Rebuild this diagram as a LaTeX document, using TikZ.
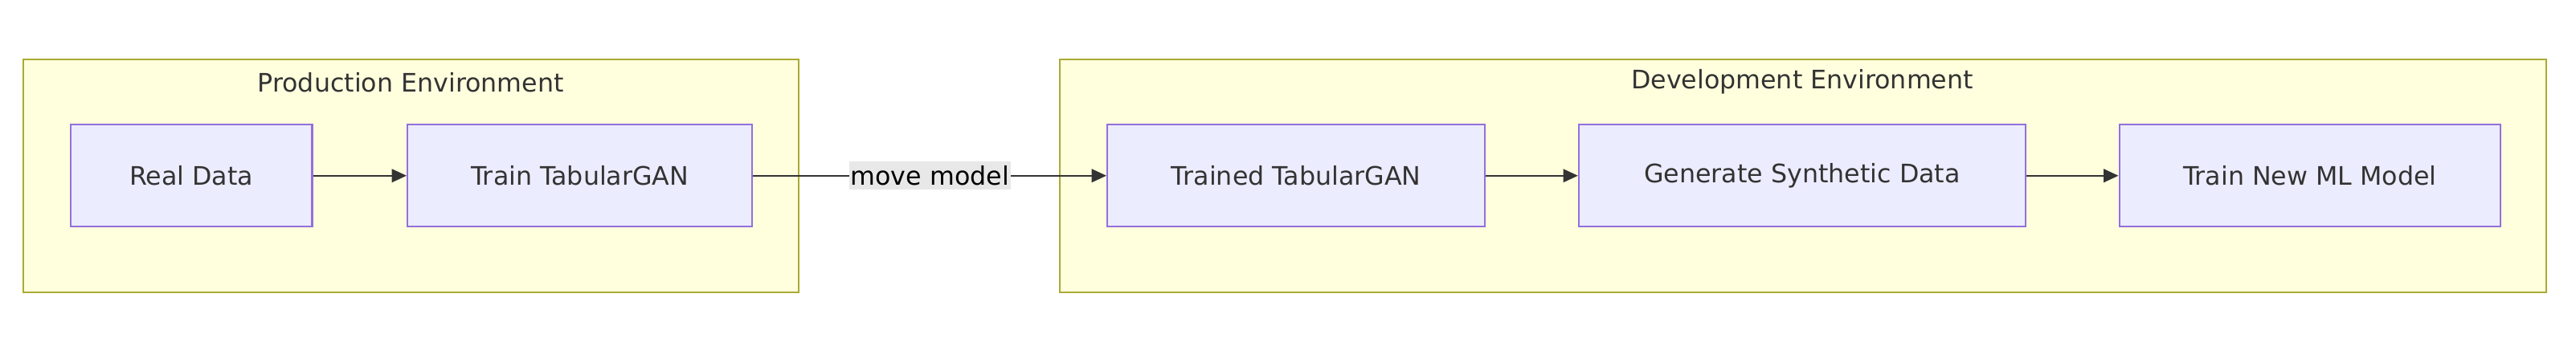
\documentclass[tikz,border=0pt]{standalone}
\usepackage{fontspec}
\setmainfont{DejaVu Sans}
\usetikzlibrary{arrows.meta}
\definecolor{clfill}{HTML}{FFFFDE}
\definecolor{cldraw}{HTML}{AAAA33}
\definecolor{ndfill}{HTML}{ECECFF}
\definecolor{nddraw}{HTML}{9370DB}
\definecolor{edge}{HTML}{333333}
\definecolor{lblbg}{HTML}{E8E8E8}
\tikzset{
  cluster/.style={draw=cldraw, fill=clfill, line width=1pt},
  box/.style={draw=nddraw, fill=ndfill, line width=1pt, minimum height=62pt, text=edge, font=\fontsize{15.5}{18}\selectfont},
  ttl/.style={text=edge, font=\fontsize{15.5}{18}\selectfont},
  arr/.style={draw=edge, line width=1.2pt, -{Triangle[length=9pt,width=8pt]}}
}
\begin{document}
\begin{tikzpicture}[x=1pt,y=1pt]
\useasboundingbox (0,0) rectangle (1568,221);
\draw[cluster] (14,43) rectangle (486,185);
\draw[cluster] (645,43) rectangle (1550,185);
\node[ttl] (t1) at (250,171) {Production Environment};
\node[ttl] (t2) at (1097,171) {Development Environment};
\node[box, minimum width=147pt] (a) at (116.5,114) {Real Data};
\node[box, minimum width=210pt] (b) at (353,114) {Train TabularGAN};
\node[box, minimum width=230pt] (c) at (789,114) {Trained TabularGAN};
\node[box, minimum width=272pt] (d) at (1097,114) {Generate Synthetic Data};
\node[box, minimum width=232pt] (e) at (1406,114) {Train New ML Model};
\draw[arr] (a) -- (b);
\draw[arr] (b) -- node[fill=lblbg, inner xsep=1pt, inner ysep=2.5pt, text=black, font=\fontsize{15.5}{18}\selectfont] {move model} (c);
\draw[arr] (c) -- (d);
\draw[arr] (d) -- (e);
\end{tikzpicture}
\end{document}
